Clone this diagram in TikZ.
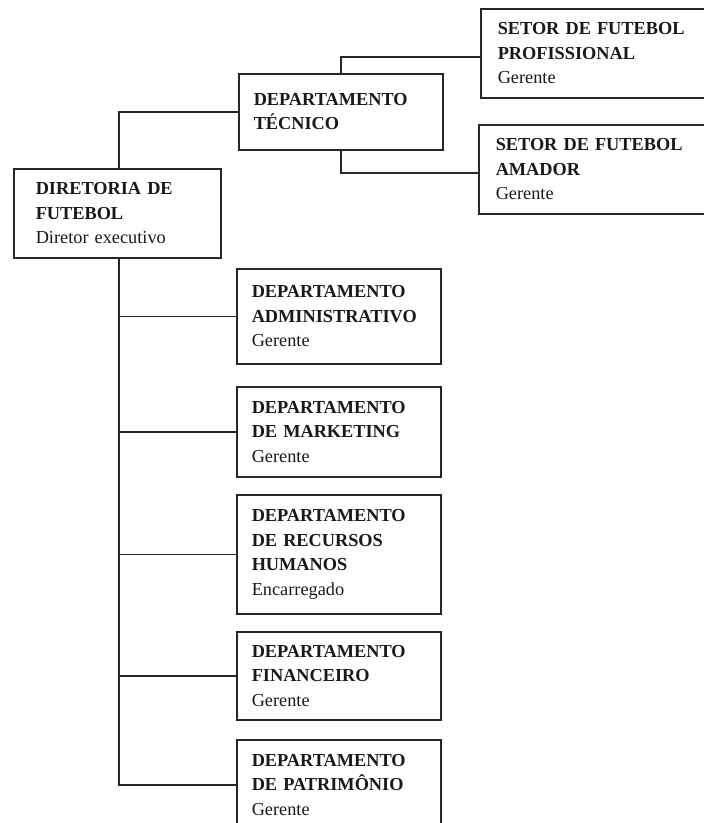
\documentclass[tikz,border=0pt]{standalone}
\usepackage{fontspec}
\setmainfont{Liberation Serif}
\begin{document}
\begin{tikzpicture}[x=1pt,y=-1pt,
  box/.style={draw=black!85, line width=1.5pt, anchor=north west, align=left,
    inner ysep=0pt, font=\fontsize{18.3}{24.5}\selectfont, text=black!90},
  conn/.style={draw=black!85, line width=1.5pt}]
\useasboundingbox[fill=white] (0,0) rectangle (704,823);
\node[box, minimum height=89pt, inner xsep=22pt, text width=163pt] (dir) at (13,168)
  {\textbf{DIRETORIA DE}\\\textbf{FUTEBOL}\\Diretor executivo};
\node[box, minimum height=76pt, inner xsep=15pt, text width=174pt] (tec) at (238,73)
  {\textbf{DEPARTAMENTO}\\\textbf{TÉCNICO}};
\node[box, minimum height=89pt, inner xsep=17pt, text width=206pt] (prof) at (480,8)
  {\textbf{SETOR DE FUTEBOL}\\\textbf{PROFISSIONAL}\\Gerente};
\node[box, minimum height=89pt, inner xsep=17pt, text width=208pt] (amad) at (478,124)
  {\textbf{SETOR DE FUTEBOL}\\\textbf{AMADOR}\\Gerente};
\node[box, minimum height=95pt, inner xsep=15pt, text width=174pt] (adm) at (236,268)
  {\textbf{DEPARTAMENTO}\\\textbf{ADMINISTRATIVO}\\Gerente};
\node[box, minimum height=90pt, inner xsep=15pt, text width=174pt] (mkt) at (236,386)
  {\textbf{DEPARTAMENTO}\\\textbf{DE MARKETING}\\Gerente};
\node[box, minimum height=119pt, inner xsep=15pt, text width=174pt] (rh) at (236,494)
  {\textbf{DEPARTAMENTO}\\\textbf{DE RECURSOS}\\\textbf{HUMANOS}\\Encarregado};
\node[box, minimum height=88pt, inner xsep=15pt, text width=174pt] (fin) at (236,631)
  {\textbf{DEPARTAMENTO}\\\textbf{FINANCEIRO}\\Gerente};
\node[box, minimum height=90pt, inner xsep=15pt, text width=174pt] (pat) at (236,739)
  {\textbf{DEPARTAMENTO}\\\textbf{DE PATRIMÔNIO}\\Gerente};
\coordinate (trunk) at ([xshift=1.5pt]dir.south);
\draw[conn] ([xshift=1.5pt]dir.north) |- (tec.west);
\draw[conn] (tec.north) |- ([yshift=-3.5pt]prof.west);
\draw[conn] (tec.south) |- ([yshift=-3.5pt]amad.west);
\draw[conn] (trunk) |- (pat.west);
\draw[conn] (trunk |- adm.west) -- (adm.west);
\draw[conn] (trunk |- mkt.west) -- (mkt.west);
\draw[conn] (trunk |- rh.west) -- (rh.west);
\draw[conn] (trunk |- fin.west) -- (fin.west);
\end{tikzpicture}
\end{document}
